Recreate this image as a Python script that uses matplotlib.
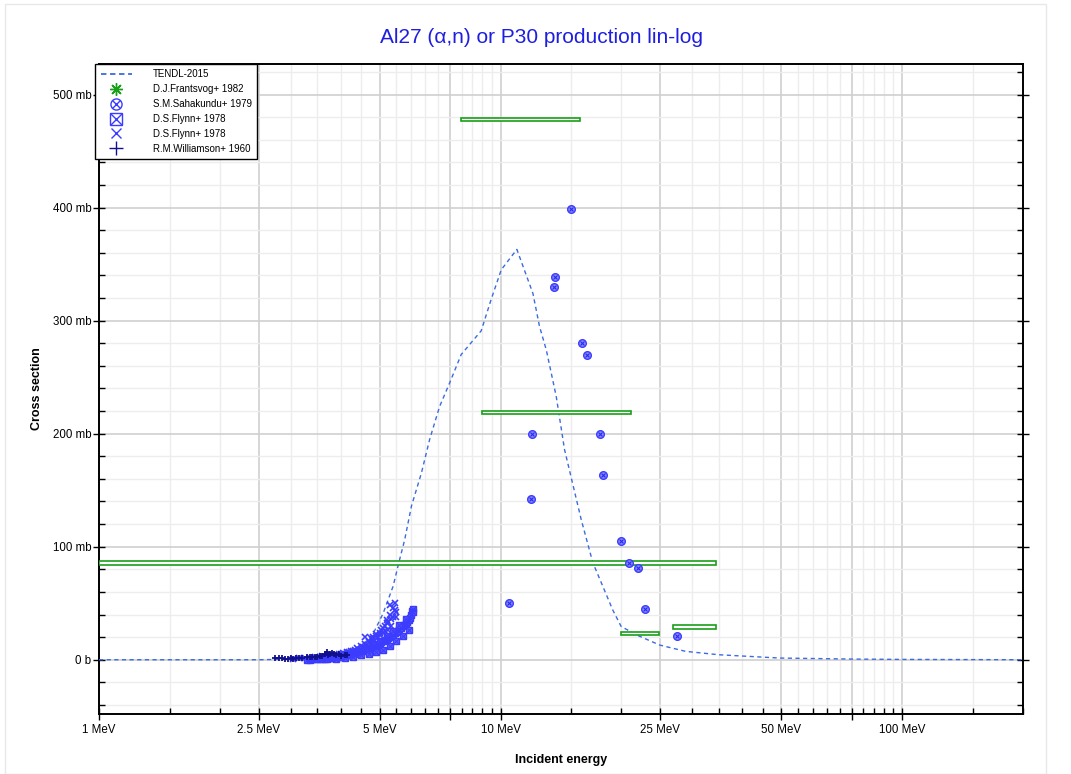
import numpy as np
import matplotlib
matplotlib.use("Agg")
import matplotlib.pyplot as plt
from matplotlib.ticker import FixedLocator, NullFormatter
from matplotlib.legend_handler import HandlerTuple
from matplotlib.patches import Rectangle

plt.rcParams['font.family'] = ['Liberation Sans', 'DejaVu Sans']

# TENDL-2015 evaluation
tendl_e = [1.0, 2.0, 2.5, 3.0, 3.5, 4.0, 4.5, 4.8, 5.1, 5.4, 5.6, 5.77, 6.0, 6.35, 6.66,
           7.05, 7.47, 7.98, 8.95, 9.48, 10.04, 10.98, 12.04, 12.5, 13.0, 13.76, 14.43,
           15.88, 16.97, 17.97, 19.03, 19.96, 21.8, 24.9, 28.9, 35.0, 49.5, 75.0, 100.0, 200.0]
tendl_xs = [0, 0, 0, 0.5, 2, 6, 12, 22, 41, 65, 88, 106, 136, 165, 195,
            224, 245, 270, 291, 319, 345, 363, 324, 295, 274, 233, 186,
            124, 86, 65, 44, 29.5, 22, 13, 7.4, 4.4, 1.5, 0.6, 0.3, 0]

# D.J.Frantsvog+ 1982 : energy bins (low, high) and cross section
fran_lo = [7.98, 8.98, 1.0, 19.9, 26.9]
fran_hi = [15.8, 21.1, 34.4, 24.8, 34.4]
fran_xs = [478, 218.6, 85.8, 23.2, 29.2]

# S.M.Sahakundu+ 1979
saha_e = [14.98, 13.7, 13.57, 15.96, 16.43, 11.96, 17.66, 18.0, 11.88, 19.96,
          20.94, 21.96, 22.9, 27.5, 10.47]
saha_xs = [399, 339, 330, 280, 270, 200, 200, 163, 142, 105,
           86, 81, 45, 21, 50]

# D.S.Flynn+ 1978 (boxed)
flynn1_e = [3.30, 3.35, 3.40, 3.45, 3.50, 3.55, 3.60, 3.65, 3.70, 3.75, 3.80, 3.85, 3.90,
            3.95, 4.00, 4.05, 4.10, 4.15, 4.20, 4.25, 4.30, 4.35, 4.40, 4.45, 4.50, 4.55,
            4.60, 4.65, 4.70, 4.75, 4.80, 4.85, 4.90, 4.95, 5.00, 5.05, 5.10, 5.15, 5.20,
            5.25, 5.30, 5.35, 5.40, 5.45, 5.50, 5.55, 5.60, 5.65, 5.70, 5.75, 5.80, 5.85,
            5.90, 5.95, 6.00, 6.03, 6.05, 6.05,
            3.70, 3.90, 4.10, 4.30, 4.50, 4.70, 4.90, 5.10, 5.30, 5.50, 5.70, 5.90,
            4.00, 4.20, 4.40, 4.60, 4.80, 5.00, 5.20, 5.40, 5.60, 5.80]
flynn1_xs = [0.0, 0.2, 0.3, 0.4, 0.5, 0.6, 0.8, 1.0, 1.2, 1.4, 1.6, 1.8, 2.0,
             2.3, 2.6, 3.0, 3.4, 3.8, 4.2, 4.6, 5.0, 5.5, 6.0, 6.6, 7.2, 7.8,
             8.4, 9.0, 9.7, 10.4, 11.2, 12.0, 12.8, 13.6, 14.5, 15.4, 16.3, 17.2, 18.2,
             19.2, 20.2, 21.2, 22.3, 23.4, 24.6, 25.8, 27.0, 28.2, 29.5, 30.8, 32.2, 33.6,
             35.2, 37.0, 40.0, 43.0, 45.0, 42.0,
             0.3, 0.8, 1.5, 2.5, 3.8, 5.2, 7.0, 9.0, 12.5, 16.5, 21.0, 26.5,
             3.5, 5.5, 7.5, 10.5, 13.5, 17.0, 21.0, 25.5, 30.5, 36.0]

# D.S.Flynn+ 1978 (x)
flynn2_e = [3.05, 3.15, 3.25, 3.35, 3.45, 3.55, 3.60, 3.70, 3.80, 3.90, 3.95, 4.00, 4.05,
            4.10, 4.15, 4.20, 4.25, 4.30, 4.35, 4.40, 4.45, 4.50, 4.55, 4.60, 4.60, 4.65,
            4.70, 4.75, 4.77, 4.80, 4.81, 4.85, 4.90, 4.95, 5.00, 5.00, 5.05, 5.10, 5.10,
            5.15, 5.20, 5.20, 5.25, 5.25, 5.30, 5.30, 5.35, 5.40, 5.40, 5.45, 5.45, 5.50,
            5.50, 5.35, 5.15, 4.90]
flynn2_xs = [1.0, 1.2, 1.5, 1.8, 2.2, 2.5, 3.5, 3.0, 4.0, 4.5, 5.5, 5.0, 6.0,
             5.5, 7.0, 6.5, 8.0, 7.5, 9.0, 10.0, 9.0, 12.0, 11.0, 14.0, 20.5, 13.0,
             16.0, 15.0, 19.0, 18.0, 20.5, 17.0, 21.0, 20.0, 24.0, 22.0, 26.0, 23.6, 28.0,
             30.0, 32.5, 35.0, 26.5, 33.0, 40.0, 48.0, 36.0, 38.0, 46.0, 44.0, 50.0, 38.0,
             42.0, 30.0, 25.0, 23.0]

# R.M.Williamson+ 1960
will_e = [2.75, 2.80, 2.85, 2.90, 2.95, 3.00, 3.05, 3.10, 3.15, 3.20, 3.30, 3.35, 3.40,
          3.45, 3.50, 3.55, 3.60, 3.65, 3.70, 3.72, 3.75, 3.80, 3.85, 3.90, 3.95, 4.00,
          4.10, 4.15]
will_xs = [1.5, 1.5, 1.2, 1.0, 1.0, 1.2, 1.0, 1.3, 1.5, 1.5, 2.0, 2.0, 2.5,
           2.5, 2.8, 3.0, 3.2, 5.5, 6.5, 4.5, 5.0, 6.0, 5.5, 4.5, 5.0, 3.5,
           4.0, 4.5]

x_major = [1, 2.5, 5, 7.5, 10, 25, 50, 75, 100]
x_labels = ['1 MeV', '2.5 MeV', '5 MeV', '', '10 MeV', '25 MeV', '50 MeV', '', '100 MeV']
x_minor = [1.5, 2, 3, 3.5, 4, 4.5, 5.5, 6, 6.5, 7, 8, 8.5, 9, 9.5,
           15, 20, 30, 35, 40, 45, 55, 60, 65, 70, 80, 85, 90, 95, 150, 200]
y_major = [0, 100, 200, 300, 400, 500]
y_labels = ['0 b', '100 mb', '200 mb', '300 mb', '400 mb', '500 mb']

fig = plt.figure(figsize=(10.71, 7.74), dpi=100)
ax = fig.add_axes([99 / 1071, 1 - 714 / 774, 924 / 1071, 650 / 774])

blue = '#3c3cff'
green = '#18a018'
navy = '#10108c'

ax.plot(tendl_e, tendl_xs, color='#3c6be0', lw=1, ls=(0, (3, 2.5)), zorder=3)

fran_lo = np.array(fran_lo)
fran_hi = np.array(fran_hi)
ax.barh(fran_xs, fran_hi - fran_lo, left=fran_lo, height=3.2, facecolor='white',
        edgecolor=green, lw=1.2, zorder=4)

ax.plot(saha_e, saha_xs, ls='none', marker='o', ms=5.5, mfc='#8a8aff', mec=blue,
        mew=1, zorder=5)
ax.plot(saha_e, saha_xs, ls='none', marker='x', ms=3.5, color='#2a2af0', mew=0.8, zorder=6)

ax.plot(flynn1_e, flynn1_xs, ls='none', marker='s', ms=4.5, mfc='#6060ff', mec=blue,
        mew=1, zorder=5)
ax.plot(flynn1_e, flynn1_xs, ls='none', marker='x', ms=4, color=blue, mew=0.8, zorder=5)
ax.plot(flynn2_e, flynn2_xs, ls='none', marker='x', ms=4.5, color=blue, mew=1.2, zorder=5)
ax.plot(will_e, will_xs, ls='none', marker='+', ms=5, color=navy, mew=1.3, zorder=6)

# legend proxies (larger symbols, as in the reference legend)
h_t, = ax.plot([], [], color='#3c6be0', lw=1.3, ls=(0, (3, 2)))
h_f, = ax.plot([], [], ls='none', marker=(8, 2, 0), ms=9, color=green, mew=1)
h_so, = ax.plot([], [], ls='none', marker='o', ms=8, mfc='none', mec=blue, mew=1)
h_sx, = ax.plot([], [], ls='none', marker='x', ms=5.5, color=blue, mew=1)
h_bs, = ax.plot([], [], ls='none', marker='s', ms=8, mfc='none', mec=blue, mew=1)
h_bx, = ax.plot([], [], ls='none', marker='x', ms=8, color=blue, mew=1)
h_x, = ax.plot([], [], ls='none', marker='x', ms=7, color=blue, mew=1)
h_w, = ax.plot([], [], ls='none', marker='+', ms=10, color=navy, mew=1)

ax.set_xscale('log')
ax.set_xlim(1, 200)
ax.set_ylim(-48, 527)

ax.xaxis.set_major_locator(FixedLocator(x_major))
ax.set_xticklabels(x_labels)
ax.xaxis.set_minor_locator(FixedLocator(x_minor))
ax.xaxis.set_minor_formatter(NullFormatter())
ax.set_yticks(y_major)
ax.set_yticklabels(y_labels)
ax.set_yticks(np.arange(-40, 521, 20), minor=True)

ax.grid(True, which='major', color='#cfcfcf', lw=1.2, zorder=0)
ax.grid(True, which='minor', color='#ededed', lw=1, zorder=0)
ax.set_axisbelow(True)

ax.tick_params(which='major', direction='inout', length=8, width=1, labelsize=8.3,
               right=True, colors='black')
ax.tick_params(axis='y', which='major', pad=1.5)
ax.tick_params(which='minor', direction='in', length=4, width=1, right=True)
for sp in ax.spines.values():
    sp.set_color('black')
    sp.set_linewidth(1.4)

ax.set_xlabel('Incident energy', fontsize=9, fontweight='bold', labelpad=13)
ax.set_ylabel('Cross section', fontsize=9, fontweight='bold', labelpad=7)
fig.text(0.506, 0.951, 'Al27 (\u03b1,n) or P30 production lin-log', ha='center',
         va='center', fontsize=15, color='#1e1ee0')

leg = ax.legend([h_t, h_f, (h_so, h_sx), (h_bs, h_bx), h_x, h_w],
                ['TENDL-2015', 'D.J.Frantsvog+ 1982', 'S.M.Sahakundu+ 1979',
                 'D.S.Flynn+ 1978', 'D.S.Flynn+ 1978', 'R.M.Williamson+ 1960'],
                handler_map={tuple: HandlerTuple(ndivide=1)},
                loc='upper left', bbox_to_anchor=(-0.004, 1.0), borderaxespad=0,
                fontsize=7, frameon=True, fancybox=False, edgecolor='black',
                framealpha=1, handlelength=3.2, labelspacing=0.5, borderpad=0.55,
                handletextpad=2.2)
leg.get_frame().set_linewidth(1)
leg.set_zorder(10)

fig.patches.append(Rectangle((5 / 1071, 0), 1041 / 1071, 770 / 774, transform=fig.transFigure,
                             fill=False, edgecolor='#e8e8e8', lw=1))

fig.savefig('out.png', dpi=100)
